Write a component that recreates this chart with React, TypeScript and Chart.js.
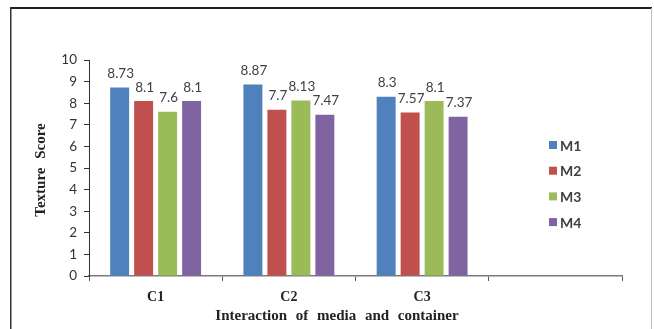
import React, { useEffect, useRef } from 'react';
import { Chart, registerables } from 'chart.js';

Chart.register(...registerables);

const categories = ['C1', 'C2', 'C3', ''];
const seriesNames = ['M1', 'M2', 'M3', 'M4'];
const seriesM1 = [8.73, 8.87, 8.3, null];
const seriesM2 = [8.1, 7.7, 7.57, null];
const seriesM3 = [7.6, 8.13, 8.1, null];
const seriesM4 = [8.1, 7.47, 7.37, null];
const seriesColors = ['#4F81BD', '#C0504D', '#9BBB59', '#8064A2'];
const yMin = 0;
const yMax = 10;
const yStep = 1;
const xTitle = 'Interaction of media and container';
const yTitle = 'Texture Score';

const W = 654;
const H = 329;

const framePlugin = {
  id: 'frame',
  beforeDraw(chart: any) {
    const ctx = chart.ctx;
    ctx.save();
    ctx.fillStyle = '#ffffff';
    ctx.fillRect(0, 0, W, H);
    ctx.strokeStyle = '#222';
    ctx.lineWidth = 2;
    ctx.beginPath();
    ctx.moveTo(10, 8);
    ctx.lineTo(652, 8);
    ctx.stroke();
    ctx.lineWidth = 1.5;
    ctx.strokeStyle = '#333';
    ctx.beginPath();
    ctx.moveTo(10.75, 7);
    ctx.lineTo(10.75, H);
    ctx.stroke();
    ctx.lineWidth = 1;
    ctx.strokeStyle = '#bbb';
    ctx.beginPath();
    ctx.moveTo(651.5, 8);
    ctx.lineTo(651.5, H);
    ctx.stroke();
    ctx.restore();
  },
};

const valueLabelPlugin = {
  id: 'valueLabels',
  afterDatasetsDraw(chart: any) {
    const ctx = chart.ctx;
    ctx.save();
    ctx.font = '13.5px Lato';
    ctx.fillStyle = '#404040';
    ctx.textAlign = 'center';
    ctx.textBaseline = 'bottom';
    chart.data.datasets.forEach((ds: any, di: number) => {
      const meta = chart.getDatasetMeta(di);
      meta.data.forEach((bar: any, i: number) => {
        const v = ds.data[i];
        if (v === null || v === undefined) return;
        ctx.fillText(String(v), bar.x + 1, bar.y - 7);
      });
    });
    ctx.restore();
  },
};

const decorPlugin = {
  id: 'decor',
  afterDraw(chart: any) {
    const ctx = chart.ctx;
    const area = chart.chartArea;
    ctx.save();
    // axis titles
    ctx.fillStyle = '#222';
    ctx.font = 'bold 15px "Liberation Serif"';
    try { (ctx as any).wordSpacing = '5px'; } catch (e) {}
    ctx.textAlign = 'center';
    ctx.textBaseline = 'middle';
    ctx.fillText(xTitle, area.left + 248, 316);
    ctx.save();
    ctx.translate(41, (area.top + area.bottom) / 2 + 2);
    ctx.rotate(-Math.PI / 2);
    ctx.fillText(yTitle, 0, 0);
    ctx.restore();
    try { (ctx as any).wordSpacing = '0px'; } catch (e) {}
    // legend
    ctx.font = 'bold 14px Lato';
    ctx.textAlign = 'left';
    chart.data.datasets.forEach((ds: any, i: number) => {
      const cy = 145 + i * 25.7;
      ctx.fillStyle = ds.backgroundColor;
      ctx.fillRect(549, cy - 4, 8, 8);
      ctx.fillStyle = '#404040';
      ctx.fillText(ds.label, 560, cy + 1);
    });
    ctx.restore();
  },
};

export default function App() {
  const ref = useRef<HTMLCanvasElement | null>(null);

  useEffect(() => {
    if (!ref.current) return;
    const seriesData = [seriesM1, seriesM2, seriesM3, seriesM4];
    const chart = new Chart(ref.current, {
      type: 'bar',
      data: {
        labels: categories,
        datasets: seriesNames.map((name, i) => ({
          label: name,
          data: seriesData[i],
          backgroundColor: seriesColors[i],
          borderWidth: 0,
          categoryPercentage: 0.72,
          barPercentage: 0.79,
        })),
      },
      options: {
        responsive: false,
        animation: false,
        devicePixelRatio: 1,
        layout: { padding: { left: 0, top: 60, right: 32, bottom: 0 } },
        plugins: {
          legend: { display: false },
          tooltip: { enabled: false },
          title: { display: false },
        },
        scales: {
          x: {
            offset: true,
            grid: {
              offset: true,
              drawOnChartArea: false,
              drawTicks: true,
              tickLength: 5,
              color: '#555',
            },
            border: { display: true, color: '#7a7a7a', width: 1.5 },
            ticks: {
              font: { family: '"Liberation Serif"', size: 14, weight: 'bold' },
              color: '#222',
              padding: 8,
            },
            afterFit(scale: any) {
              scale.height = H - 276;
            },
          },
          y: {
            min: yMin,
            max: yMax,
            grid: {
              drawOnChartArea: false,
              drawTicks: true,
              tickLength: 5,
              color: '#333',
            },
            border: { display: true, color: '#333', width: 1 },
            ticks: {
              stepSize: yStep,
              font: { family: 'Lato', size: 13.5 },
              color: '#333',
              padding: 7,
            },
            afterFit(scale: any) {
              scale.width = 89;
            },
          },
        },
      },
      plugins: [framePlugin, valueLabelPlugin, decorPlugin],
    } as any);
    return () => chart.destroy();
  }, []);

  return (
    <div style={{ position: 'fixed', left: 0, top: 0, width: W, height: H, background: '#fff' }}>
      <canvas ref={ref} width={W} height={H} style={{ display: 'block', width: W, height: H }} />
    </div>
  );
}
